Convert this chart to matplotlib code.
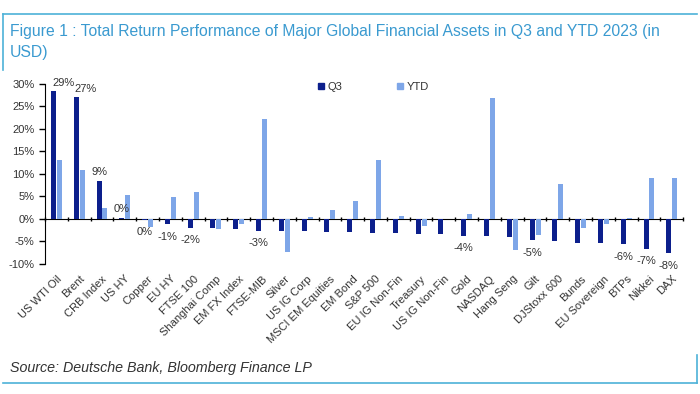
import matplotlib
matplotlib.use("Agg")
import matplotlib.pyplot as plt
import numpy as np
from matplotlib.lines import Line2D

# Data (total return, %)
assets = ["US WTI Oil", "Brent", "CRB Index", "US HY", "Copper", "EU HY", "FTSE 100",
          "Shanghai Comp", "EM FX Index", "FTSE-MIB", "Silver", "US IG Corp",
          "MSCI EM Equities", "EM Bond", "S&P 500", "EU IG Non-Fin", "Treasury",
          "US IG Non-Fin", "Gold", "NASDAQ", "Hang Seng", "Gilt", "DJStoxx 600",
          "Bunds", "EU Sovereign", "BTPs", "Nikkei", "DAX"]
q3 = [28.4, 27.0, 8.5, 0.3, -0.2, -1.2, -1.9, -1.9, -2.3, -2.6, -2.6, -2.7, -2.8,
      -3.0, -3.2, -3.2, -3.3, -3.4, -3.7, -3.8, -4.1, -4.7, -5.0, -5.3, -5.4,
      -5.6, -6.6, -7.6]
ytd = [13.0, 10.9, 2.4, 5.3, -1.7, 4.9, 6.1, -2.3, -1.2, 22.2, -7.3, 0.5, 2.0,
       4.0, 13.0, 0.6, -1.5, 0.0, 1.2, 26.8, -7.0, -3.5, 7.8, -2.0, -1.2, 0.2,
       9.0, 9.0]
# which Q3 bars carry a value label, and the label text
q3_labels = {"US WTI Oil": "29%", "Brent": "27%", "CRB Index": "9%", "US HY": "0%",
             "Copper": "0%", "EU HY": "-1%", "FTSE 100": "-2%", "FTSE-MIB": "-3%",
             "Gold": "-4%", "Gilt": "-5%", "BTPs": "-6%", "Nikkei": "-7%", "DAX": "-8%"}
yticks = [-10, -5, 0, 5, 10, 15, 20, 25, 30]

DARK = "#0c1f8c"
LIGHT = "#7ea6e8"
FRAME = "#4db2d8"
TITLE = "#3a9ad0"
TXT = "#333333"

plt.rcParams['font.family'] = ['Liberation Sans', 'DejaVu Sans']

fig = plt.figure(figsize=(7.0, 3.94), dpi=100)
ax = fig.add_axes([0.0643, 0.330, 0.9117, 0.457])

x = np.arange(len(assets))
w = 0.22
ax.bar(x - 0.13, q3, width=w, color=DARK, zorder=3)
ax.bar(x + 0.13, ytd, width=w, color=LIGHT, zorder=3)

# value labels on Q3 bars
for i, name in enumerate(assets):
    if name not in q3_labels:
        continue
    v = q3[i]
    dx = 7 if name in ("US WTI Oil", "Brent") else 0
    if v >= 0:
        ax.annotate(q3_labels[name], (x[i] - 0.13, v), xytext=(dx, 6),
                    textcoords="offset points", ha="center", va="center",
                    fontsize=8, color=TXT)
    else:
        ax.annotate(q3_labels[name], (x[i] - 0.13, min(v, -0.1)), xytext=(dx, -9),
                    textcoords="offset points", ha="center", va="center",
                    fontsize=8, color=TXT)

ax.set_xlim(-0.5, len(assets) - 0.5)
ax.set_ylim(-10, 30)
ax.set_yticks(yticks)
ax.set_yticklabels([f"{t}%" for t in yticks])
ax.tick_params(axis="y", labelsize=8, labelcolor=TXT, length=4, direction="out", width=1)

# x axis line at zero with ticks between categories
ax.spines["bottom"].set_position(("data", 0))
ax.spines["top"].set_visible(False)
ax.spines["right"].set_visible(False)
ax.set_xticks(np.arange(len(assets) + 1) - 0.5)
ax.set_xticklabels([])
ax.tick_params(axis="x", length=3, direction="inout", width=1)

# category names at the bottom of the plot
sec = ax.secondary_xaxis(0)
sec.set_xticks(x)
sec.set_xticklabels(assets, rotation=45, ha="right", rotation_mode="anchor",
                    fontsize=8, color=TXT)
sec.tick_params(length=0, pad=7)
sec.spines["bottom"].set_visible(False)

# legend
handles = [Line2D([], [], marker="s", ls="", color=DARK, markersize=5),
           Line2D([], [], marker="s", ls="", color=LIGHT, markersize=5)]
fig.legend(handles, ["Q3", "YTD"], loc="center", bbox_to_anchor=(0.533, 0.779),
           ncol=2, frameon=False, fontsize=8, handlelength=0.6, handletextpad=0.3,
           columnspacing=4.9, labelcolor=TXT)

# title, source and frame
fig.text(0.014, 0.921, "Figure 1 : Total Return Performance of Major Global Financial Assets in Q3 and YTD 2023 (in",
         fontsize=11.3, color=TITLE, va="center")
fig.text(0.014, 0.866, "USD)", fontsize=11.3, color=TITLE, va="center")
fig.text(0.014, 0.066, "Source: Deutsche Bank, Bloomberg Finance LP",
         fontsize=10.3, style="italic", color=TXT, va="center")

fig.add_artist(Line2D([0.004, 0.996], [0.965, 0.965], color=FRAME, lw=1.2))
fig.add_artist(Line2D([0.004, 0.004], [0.965, 0.822], color=FRAME, lw=1.2))
fig.add_artist(Line2D([0.004, 0.996], [0.027, 0.027], color=FRAME, lw=1.2))
fig.add_artist(Line2D([0.996, 0.996], [0.027, 0.099], color=FRAME, lw=1.2))

fig.savefig("out.png", dpi=100)
